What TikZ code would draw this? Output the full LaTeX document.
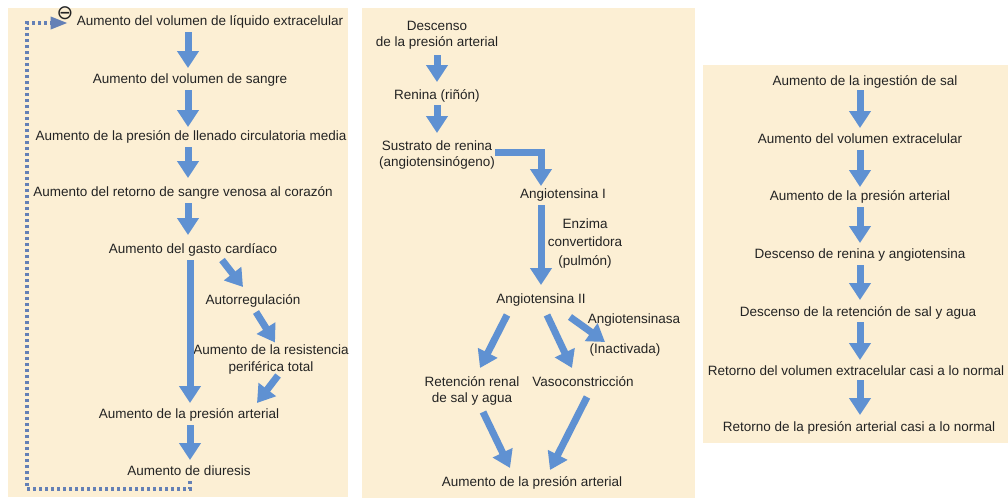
\documentclass[tikz,border=0pt]{standalone}
\usepackage{fontspec}
\setmainfont{Liberation Sans}
\newfontfamily\symfont{DejaVu Sans}
\usetikzlibrary{arrows.meta}
\definecolor{cream}{RGB}{252,239,212}
\definecolor{arrblue}{RGB}{95,145,210}
\definecolor{fbblue}{RGB}{100,128,182}
\definecolor{txt}{RGB}{35,35,35}
\tikzset{
  lbl/.style={inner sep=0pt, text=txt, font=\fontsize{13.5}{16.5}\selectfont, text height=10pt, text depth=3pt},
  mlbl/.style={inner sep=0pt, text=txt, font=\fontsize{13.5}{16.5}\selectfont, align=center},
  arr/.style={draw=arrblue, line width=7pt, line join=miter, -{Triangle[width=21pt,length=17pt]}},
  fb/.style={draw=fbblue, line width=3.5pt, dash pattern=on 3pt off 3pt, -{Triangle[width=12pt,length=17pt]}},
  panel/.style={fill=cream, draw=none},
}
\begin{document}
\begin{tikzpicture}[x=1pt,y=-1pt]
\fill[white] (0,0) rectangle (1008,501);
\useasboundingbox (0,0) rectangle (1008,501);
% panels
\fill[panel] (8,8) rectangle (348,497);
\fill[panel] (362,8) rectangle (695,498);
\fill[panel] (703,65) rectangle (1008,443);

% ---------- left panel ----------
\node[lbl] (L1) at (210,22) {Aumento del volumen de líquido extracelular};
\node[lbl] (L2) at (190,80) {Aumento del volumen de sangre};
\node[lbl] (L3) at (191,137) {Aumento de la presión de llenado circulatoria media};
\node[lbl] (L4) at (183,193) {Aumento del retorno de sangre venosa al corazón};
\node[lbl] (L5) at (193,250) {Aumento del gasto cardíaco};
\node[lbl] (Aut) at (253,301) {Autorregulación};
\node[mlbl, font=\fontsize{13.5}{17}\selectfont] (Res) at (271,359.5) {Aumento de la resistencia\\periférica total};
\node[lbl] (L6) at (189,415) {Aumento de la presión arterial};
\node[lbl] (L7) at (189,472) {Aumento de diuresis};
\node[inner sep=0pt, text=txt, font=\symfont\fontsize{20}{22}\selectfont] (minus) at (65,13) {⊖};

\draw[arr] ([shift={(-22,10)}]L1.center) -- ([shift={(-2,-12)}]L2.center);
\draw[arr] ([shift={(-2,10)}]L2.center) -- ([shift={(-3,-10)}]L3.center);
\draw[arr] ([shift={(-3,10)}]L3.center) -- ([shift={(5,-15)}]L4.center);
\draw[arr] ([shift={(5,10)}]L4.center) -- ([shift={(-5,-15)}]L5.center);
\draw[arr] ([shift={(-3,10)}]L5.center) -- ([shift={(1,-12)}]L6.center);
\draw[arr] ([shift={(29,10)}]L5.center) -- ([shift={(-10,-14)}]Aut.center);
\draw[arr] ([shift={(3,11)}]Aut.center) -- ([shift={(4,-17)}]Res.center);
\draw[arr] ([shift={(7,16)}]Res.center) -- ([shift={(68,-12)}]L6.center);
\draw[arr] ([shift={(1,10)}]L6.center) -- ([shift={(1,-12)}]L7.center);

\coordinate (fbc) at (27,489);
\draw[fb] ([shift={(1,9)}]L7.center) |- (fbc) |- ([shift={(-9,1)}]L1.west);

% ---------- middle panel ----------
\node[mlbl, font=\fontsize{13.5}{15.5}\selectfont] (M1) at (437,35.5) {Descenso\\de la presión arterial};
\node[lbl] (M2) at (437,96) {Renina (riñón)};
\node[mlbl, font=\fontsize{13.5}{16}\selectfont] (M3) at (437,155) {Sustrato de renina\\(angiotensinógeno)};
\node[lbl] (M4) at (563,195) {Angiotensina I};
\node[mlbl, font=\fontsize{13.5}{18.5}\selectfont] (Enz) at (585,243.5) {Enzima\\convertidora\\(pulmón)};
\node[lbl] (M5) at (541,300) {Angiotensina II};
\node[lbl] (Asa) at (634,320) {Angiotensinasa};
\node[lbl] (Inact) at (625,350) {(Inactivada)};
\node[mlbl, font=\fontsize{13.5}{16}\selectfont] (Ret) at (472,391) {Retención renal\\de sal y agua};
\node[lbl] (Vaso) at (583,383) {Vasoconstricción};
\node[lbl] (MB) at (532,483) {Aumento de la presión arterial};

\draw[arr] ([shift={(0,19.5)}]M1.center) -- ([shift={(0,-14)}]M2.center);
\draw[arr] ([shift={(0,9)}]M2.center) -- ([shift={(0,-22)}]M3.center);
\draw[arr] ([shift={(58,-3)}]M3.center) -| ([shift={(-22,-9)}]M4.center);
\draw[arr] ([shift={(-22,10)}]M4.center) -- ([shift={(0,-15)}]M5.center);
\draw[arr] ([shift={(-34,15)}]M5.center) -- ([shift={(8,-23)}]Ret.center);
\draw[arr] ([shift={(6,15)}]M5.center) -- ([shift={(-11,-15)}]Vaso.center);
\draw[arr] ([shift={(29,17)}]M5.center) -- ([shift={(-20,-8)}]Inact.center);
\draw[arr] ([shift={(11,21)}]Ret.center) -- ([shift={(-22,-15)}]MB.center);
\draw[arr] ([shift={(4,14)}]Vaso.center) -- ([shift={(18,-13)}]MB.center);

% ---------- right panel ----------
\node[lbl] (R1) at (865,82) {Aumento de la ingestión de sal};
\node[lbl] (R2) at (860,140) {Aumento del volumen extracelular};
\node[lbl] (R3) at (860,197) {Aumento de la presión arterial};
\node[lbl] (R4) at (860,255) {Descenso de renina y angiotensina};
\node[lbl] (R5) at (858,313) {Descenso de la retención de sal y agua};
\node[lbl] (R6) at (856,372) {Retorno del volumen extracelular casi a lo normal};
\node[lbl] (R7) at (859,428) {Retorno de la presión arterial casi a lo normal};

\draw[arr] ([shift={(-5,8)}]R1.center) -- ([shift={(0,-12)}]R2.center);
\draw[arr] ([shift={(0,10)}]R2.center) -- ([shift={(0,-10)}]R3.center);
\draw[arr] ([shift={(0,10)}]R3.center) -- ([shift={(0,-12)}]R4.center);
\draw[arr] ([shift={(0,10)}]R4.center) -- ([shift={(2,-13)}]R5.center);
\draw[arr] ([shift={(2,9)}]R5.center) -- ([shift={(4,-12)}]R6.center);
\draw[arr] ([shift={(4,8)}]R6.center) -- ([shift={(1,-13)}]R7.center);
\end{tikzpicture}
\end{document}
